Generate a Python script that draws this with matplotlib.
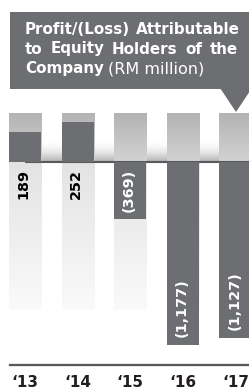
import numpy as np
import matplotlib
matplotlib.use("Agg")
import matplotlib.pyplot as plt
from matplotlib.colors import to_rgba
from matplotlib.patches import Rectangle, Polygon
from matplotlib.lines import Line2D

# data
years = ["\u201813", "\u201814", "\u201815", "\u201816", "\u201817"]
profit = [189, 252, -369, -1177, -1127]
labels = ["189", "252", "(369)", "(1,177)", "(1,127)"]

W, H = 249, 391
DARK = "#6d6e71"
LINE = "#58595b"

fig = plt.figure(figsize=(W / 100, H / 100), dpi=100)
ax = fig.add_axes([0, 0, 1, 1])
ax.set_axis_off()

# layout in pixels (from top-left)
zero_px = 161.7
px_per_unit = 0.156
step = 52.6
first = 25
bar_w = 0.61

x = np.arange(len(years))
xlim = (-first / step, (W - first) / step)
ylim = (-(H - zero_px) / px_per_unit, zero_px / px_per_unit)


def py(p):
    # pixel row -> data value
    return (zero_px - p) / px_per_unit


def fx(p):
    return p / W


def fy(p):
    return 1 - p / H


def vgrad(x0, x1, y_top, y_bot, c_top, c_bot, z=0):
    a = np.array(to_rgba(c_top))
    b = np.array(to_rgba(c_bot))
    t = np.linspace(0, 1, 128)[:, None]
    img = (a * (1 - t) + b * t)[:, None, :]
    ax.imshow(img, extent=(x0, x1, y_bot, y_top), aspect="auto",
              origin="upper", interpolation="bilinear", zorder=z)


# shadow above the zero line
vgrad(x[0], xlim[1], py(140), py(160.7), (1, 1, 1, 0), "#b4b4b4", z=0)

# light column backgrounds
for xi in x:
    vgrad(xi - bar_w / 2, xi + bar_w / 2, py(112.7), 0, "#b3b3b3", "#d3d3d3", z=1)
    vgrad(xi - bar_w / 2, xi + bar_w / 2, 0, py(310), "#e3e3e3", "#fafafa", z=1)

ax.hlines(0, x[0], xlim[1], color=LINE, lw=1.5, zorder=2)

ax.bar(x, profit, width=bar_w, color=DARK, zorder=3)

for xi, v, lab in zip(x, profit, labels):
    if v < -1000:
        ax.annotate(lab, (xi, v), xytext=(-1, 8), textcoords="offset pixels",
                    rotation=90, ha="center", va="bottom", color="white",
                    fontsize=10.4, fontweight="bold", zorder=4)
    else:
        ax.annotate(lab, (xi, 0), xytext=(-2 if v > 0 else -1, -7),
                    textcoords="offset pixels", rotation=90, ha="center",
                    va="top", color="black" if v > 0 else "white",
                    fontsize=10.4, fontweight="bold", zorder=4)

ax.set_xlim(*xlim)
ax.set_ylim(*ylim)

# year labels + base line
fig.add_artist(Line2D([fx(10), 1], [fy(364.5), fy(364.5)], color=LINE, lw=1.65))
for xi, yr in zip(x, years):
    ax.text(xi, py(382.5), yr, ha="center", va="center", fontsize=11,
            fontweight="bold", color="#231f20")

# title callout
fig.add_artist(Rectangle((fx(10), fy(89)), 1, (89 - 12) / H, color=DARK, lw=0))
fig.add_artist(Polygon([(fx(220), fy(88)), (fx(252), fy(88)), (fx(236), fy(112))],
                       closed=True, color=DARK, lw=0))

renderer = fig.canvas.get_renderer()


def justify(words, left, right, base, **kw):
    items = [fig.text(0, fy(base), w, va="baseline", **kw) for w in words]
    widths = [t.get_window_extent(renderer).width for t in items]
    gap = (right - left - sum(widths)) / (len(words) - 1)
    pos = left
    for t, w in zip(items, widths):
        t.set_x(fx(pos))
        pos += w + gap


tkw = dict(color="white", fontsize=10.9, fontweight="bold")
justify(["Profit/(Loss)", "Attributable"], 25, 240, 34, **tkw)
justify(["to", "Equity", "Holders", "of", "the"], 25, 238, 53.5, **tkw)
t3 = fig.text(fx(25), fy(73), "Company", va="baseline", **tkw)
x3 = t3.get_window_extent(renderer).x1
fig.text(fx(x3 + 4), fy(73), "(RM million)", va="baseline", color="white",
         fontsize=11.5)

fig.savefig("out.png", dpi=100)
